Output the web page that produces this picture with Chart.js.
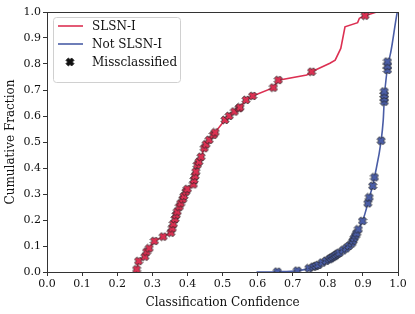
<!DOCTYPE html>
<html>
<head>
<meta charset="utf-8">
<script src="https://cdn.jsdelivr.net/npm/chart.js@4.4.0/dist/chart.umd.min.js"></script>
<style>
  html, body { margin: 0; padding: 0; background: #fff; }
  #wrap { width: 415px; height: 314px; }
</style>
</head>
<body>
<div id="wrap"><canvas id="cdfChart" width="415" height="314"></canvas></div>
<script>
// SLSN-I cumulative curve (confidence, fraction)
const slsnConf = [0.253, 0.2555, 0.261, 0.279, 0.284, 0.291, 0.306, 0.331, 0.353, 0.357, 0.360, 0.365, 0.368, 0.371, 0.377, 0.381, 0.387, 0.390, 0.396, 0.400, 0.417, 0.419, 0.422, 0.424, 0.428, 0.433, 0.439, 0.448, 0.453, 0.462, 0.474, 0.479, 0.507, 0.519, 0.534, 0.547, 0.550, 0.567, 0.586, 0.645, 0.659, 0.740, 0.754, 0.806, 0.821, 0.837, 0.849, 0.885, 0.890, 0.906, 0.939];
const slsnFrac = [0.0, 0.010, 0.042, 0.059, 0.078, 0.091, 0.119, 0.136, 0.151, 0.168, 0.185, 0.204, 0.219, 0.232, 0.251, 0.264, 0.280, 0.292, 0.309, 0.319, 0.337, 0.354, 0.369, 0.386, 0.412, 0.424, 0.443, 0.476, 0.491, 0.508, 0.527, 0.537, 0.585, 0.600, 0.617, 0.630, 0.633, 0.662, 0.677, 0.709, 0.738, 0.758, 0.770, 0.803, 0.815, 0.860, 0.943, 0.959, 0.976, 0.986, 1.0];
// misclassified SLSN-I
const slsnMissConf = [0.2555, 0.261, 0.279, 0.284, 0.291, 0.306, 0.331, 0.353, 0.357, 0.360, 0.365, 0.368, 0.371, 0.377, 0.381, 0.387, 0.390, 0.396, 0.400, 0.417, 0.419, 0.422, 0.424, 0.428, 0.433, 0.439, 0.448, 0.453, 0.462, 0.474, 0.479, 0.507, 0.519, 0.534, 0.547, 0.550, 0.567, 0.586, 0.645, 0.659, 0.754, 0.906];
const slsnMissFrac = [0.010, 0.042, 0.059, 0.078, 0.091, 0.119, 0.136, 0.151, 0.168, 0.185, 0.204, 0.219, 0.232, 0.251, 0.264, 0.280, 0.292, 0.309, 0.319, 0.337, 0.354, 0.369, 0.386, 0.412, 0.424, 0.443, 0.476, 0.491, 0.508, 0.527, 0.537, 0.585, 0.600, 0.617, 0.630, 0.633, 0.662, 0.677, 0.709, 0.738, 0.770, 0.986];

// Not SLSN-I cumulative curve
const otherConf = [0.597, 0.656, 0.713, 0.746, 0.759, 0.766, 0.773, 0.784, 0.795, 0.804, 0.809, 0.814, 0.819, 0.823, 0.828, 0.833, 0.843, 0.852, 0.860, 0.868, 0.872, 0.875, 0.879, 0.882, 0.887, 0.899, 0.914, 0.918, 0.928, 0.933, 0.952, 0.958, 0.961, 0.961, 0.961, 0.961, 0.970, 0.970, 0.970, 0.998];
const otherFrac = [0.0, 0.001, 0.005, 0.014, 0.020, 0.023, 0.027, 0.036, 0.043, 0.049, 0.053, 0.057, 0.061, 0.065, 0.070, 0.074, 0.083, 0.091, 0.100, 0.110, 0.120, 0.130, 0.140, 0.149, 0.164, 0.196, 0.264, 0.287, 0.331, 0.364, 0.505, 0.585, 0.655, 0.668, 0.681, 0.694, 0.777, 0.793, 0.809, 1.0];
// misclassified Not SLSN-I
const otherMissConf = [0.656, 0.713, 0.746, 0.759, 0.766, 0.773, 0.784, 0.795, 0.804, 0.809, 0.814, 0.819, 0.823, 0.828, 0.833, 0.843, 0.852, 0.860, 0.868, 0.872, 0.875, 0.879, 0.882, 0.887, 0.899, 0.914, 0.918, 0.928, 0.933, 0.952, 0.961, 0.961, 0.961, 0.961, 0.970, 0.970, 0.970];
const otherMissFrac = [0.001, 0.005, 0.014, 0.020, 0.023, 0.027, 0.036, 0.043, 0.049, 0.053, 0.057, 0.061, 0.065, 0.070, 0.074, 0.083, 0.091, 0.100, 0.110, 0.120, 0.130, 0.140, 0.149, 0.164, 0.196, 0.264, 0.287, 0.331, 0.364, 0.505, 0.655, 0.668, 0.681, 0.694, 0.777, 0.793, 0.809];

const legendLabels = ["SLSN-I", "Not SLSN-I", "Missclassified"];
const xTitle = "Classification Confidence";
const yTitle = "Cumulative Fraction";

const RED = "#dc3052";
const BLUE = "#4a5da6";
const FONT = "'DejaVu Serif', serif";

const toPts = (xs, ys) => xs.map((x, i) => ({ x: x, y: ys[i] }));

// filled X marker with dark edge (like matplotlib 'X')
function makeX(fill, size) {
  const c = document.createElement("canvas");
  c.width = size; c.height = size;
  const g = c.getContext("2d");
  const h = size / 2, a = size / 2 - 1, w = size * 0.17;
  g.translate(h, h);
  g.rotate(Math.PI / 4);
  g.beginPath();
  g.moveTo(-w, -a); g.lineTo(w, -a); g.lineTo(w, -w); g.lineTo(a, -w);
  g.lineTo(a, w); g.lineTo(w, w); g.lineTo(w, a); g.lineTo(-w, a);
  g.lineTo(-w, w); g.lineTo(-a, w); g.lineTo(-a, -w); g.lineTo(-w, -w);
  g.closePath();
  g.fillStyle = fill;
  g.fill();
  g.lineWidth = 0.8;
  g.strokeStyle = "#222";
  g.stroke();
  return c;
}
const redX = makeX(RED, 10);
const blueX = makeX(BLUE, 10);
const blackX = makeX("#111", 10);

// box around plot + legend
const framePlugin = {
  id: "frame",
  afterDatasetsDraw(chart) {
    const { ctx, chartArea: a } = chart;
    ctx.save();
    ctx.strokeStyle = "#333";
    ctx.lineWidth = 1;
    ctx.strokeRect(a.left + 0.5, a.top + 0.5, a.right - a.left, a.bottom - a.top);

    // legend
    const lx = 53, ly = 17, lw = 127, lh = 65;
    ctx.fillStyle = "rgba(255,255,255,0.8)";
    ctx.strokeStyle = "#d0d0d0";
    ctx.beginPath();
    ctx.roundRect(lx + 0.5, ly + 0.5, lw, lh, 3);
    ctx.fill();
    ctx.stroke();
    ctx.font = "12px " + FONT;
    ctx.fillStyle = "#111";
    ctx.textBaseline = "middle";
    const rows = [26, 44, 62];
    ctx.lineWidth = 1.6;
    ctx.strokeStyle = RED;
    ctx.beginPath(); ctx.moveTo(58, rows[0]); ctx.lineTo(83, rows[0]); ctx.stroke();
    ctx.strokeStyle = BLUE;
    ctx.beginPath(); ctx.moveTo(58, rows[1]); ctx.lineTo(83, rows[1]); ctx.stroke();
    ctx.drawImage(blackX, 70 - 5, rows[2] - 5, 10, 10);
    legendLabels.forEach((t, i) => ctx.fillText(t, 92, rows[i] + 1));
    ctx.restore();
  }
};

const tickOpts = {
  color: "#111",
  font: { family: FONT, size: 11 },
  padding: 2,
  maxRotation: 0,
};

new Chart(document.getElementById("cdfChart"), {
  type: "scatter",
  data: {
    datasets: [
      {
        label: legendLabels[0],
        data: toPts(slsnConf, slsnFrac),
        showLine: true,
        borderColor: RED,
        borderWidth: 1.6,
        pointRadius: 0,
        order: 3,
      },
      {
        label: legendLabels[1],
        data: toPts(otherConf, otherFrac),
        showLine: true,
        cubicInterpolationMode: "monotone",
        borderColor: BLUE,
        borderWidth: 1.6,
        pointRadius: 0,
        order: 3,
      },
      {
        label: legendLabels[2],
        data: toPts(slsnMissConf, slsnMissFrac),
        pointStyle: redX,
        pointRadius: 5,
        order: 1,
      },
      {
        label: legendLabels[2],
        data: toPts(otherMissConf, otherMissFrac),
        pointStyle: blueX,
        pointRadius: 5,
        order: 1,
      },
    ],
  },
  options: {
    responsive: false,
    animation: false,
    devicePixelRatio: 1,
    layout: { padding: { top: 12, right: 17, left: 0, bottom: 0 } },
    plugins: {
      legend: { display: false },
      tooltip: { enabled: false },
    },
    scales: {
      x: {
        type: "linear",
        min: 0,
        max: 1,
        ticks: { ...tickOpts, stepSize: 0.1, callback: (v) => v.toFixed(1) },
        grid: { display: true, drawOnChartArea: false, drawTicks: true, tickLength: 4, color: "#333" },
        border: { display: false },
        title: { display: true, text: xTitle, color: "#111", font: { family: FONT, size: 12 }, padding: { top: 1 } },
        afterFit: (s) => { s.height = 42; },
      },
      y: {
        type: "linear",
        min: 0,
        max: 1,
        ticks: { ...tickOpts, stepSize: 0.1, callback: (v) => v.toFixed(1) },
        grid: { display: true, drawOnChartArea: false, drawTicks: true, tickLength: 4, color: "#333" },
        border: { display: false },
        title: { display: true, text: yTitle, color: "#111", font: { family: FONT, size: 12 }, padding: { bottom: 2 } },
        afterFit: (s) => { s.width = 47; },
      },
    },
  },
  plugins: [framePlugin],
});
</script>
</body>
</html>
